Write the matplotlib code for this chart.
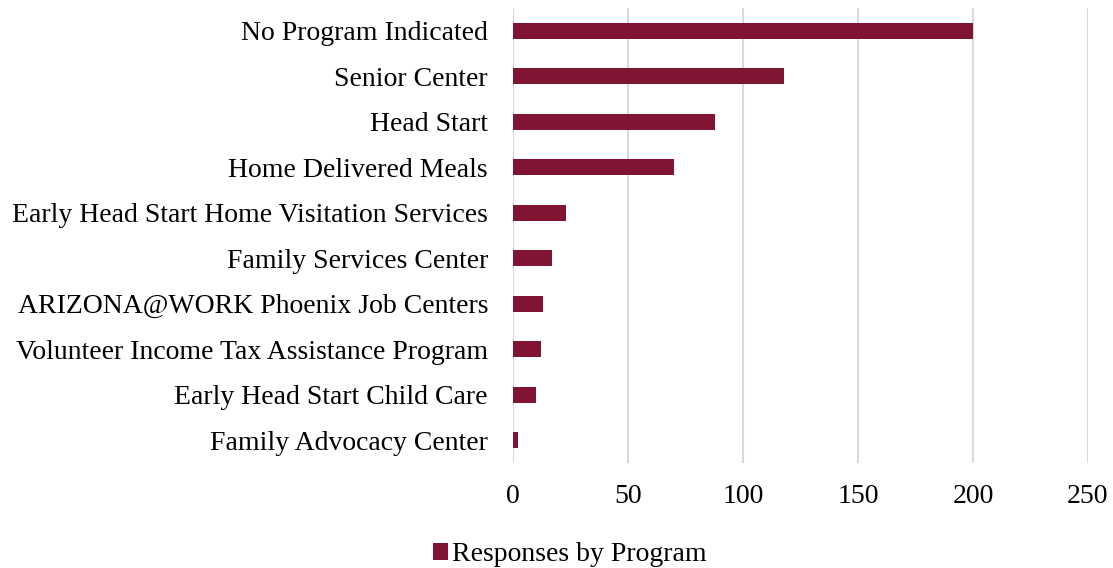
import matplotlib.pyplot as plt

programs = ["No Program Indicated", "Senior Center", "Head Start", "Home Delivered Meals",
            "Early Head Start Home Visitation Services", "Family Services Center",
            "ARIZONA@WORK Phoenix Job Centers", "Volunteer Income Tax Assistance Program",
            "Early Head Start Child Care", "Family Advocacy Center"]
responses = [200, 118, 88, 70, 23, 17, 13, 12, 10, 2]
xticks = [0, 50, 100, 150, 200, 250]

plt.rcParams['font.family'] = ['Liberation Serif', 'DejaVu Serif']

fig = plt.figure(figsize=(11.13, 5.68), dpi=100)
ax = fig.add_axes([513/1113, 1 - 463/568, 575/1113, 455/568])

pos = list(range(len(programs)))[::-1]
ax.barh(pos, responses, height=0.35, color='#821433', label='Responses by Program', zorder=3)

ax.set_xlim(0, 250)
ax.set_ylim(-0.5, len(programs) - 0.5)
ax.set_xticks(xticks)
ax.set_yticks(pos)
ax.set_yticklabels(programs)
ax.tick_params(axis='both', length=0, labelsize=20, colors='black')
ax.tick_params(axis='x', pad=15)
ax.tick_params(axis='y', pad=18)
ax.grid(axis='x', color='#d9d9d9', linewidth=1.5, zorder=0)
for s in ax.spines.values():
    s.set_visible(False)

fig.legend(loc='lower center', bbox_to_anchor=(0.512, -0.043), frameon=False, fontsize=20,
           handlelength=0.55, handleheight=0.55, handletextpad=0.15)

fig.savefig('out.png', dpi=100)
